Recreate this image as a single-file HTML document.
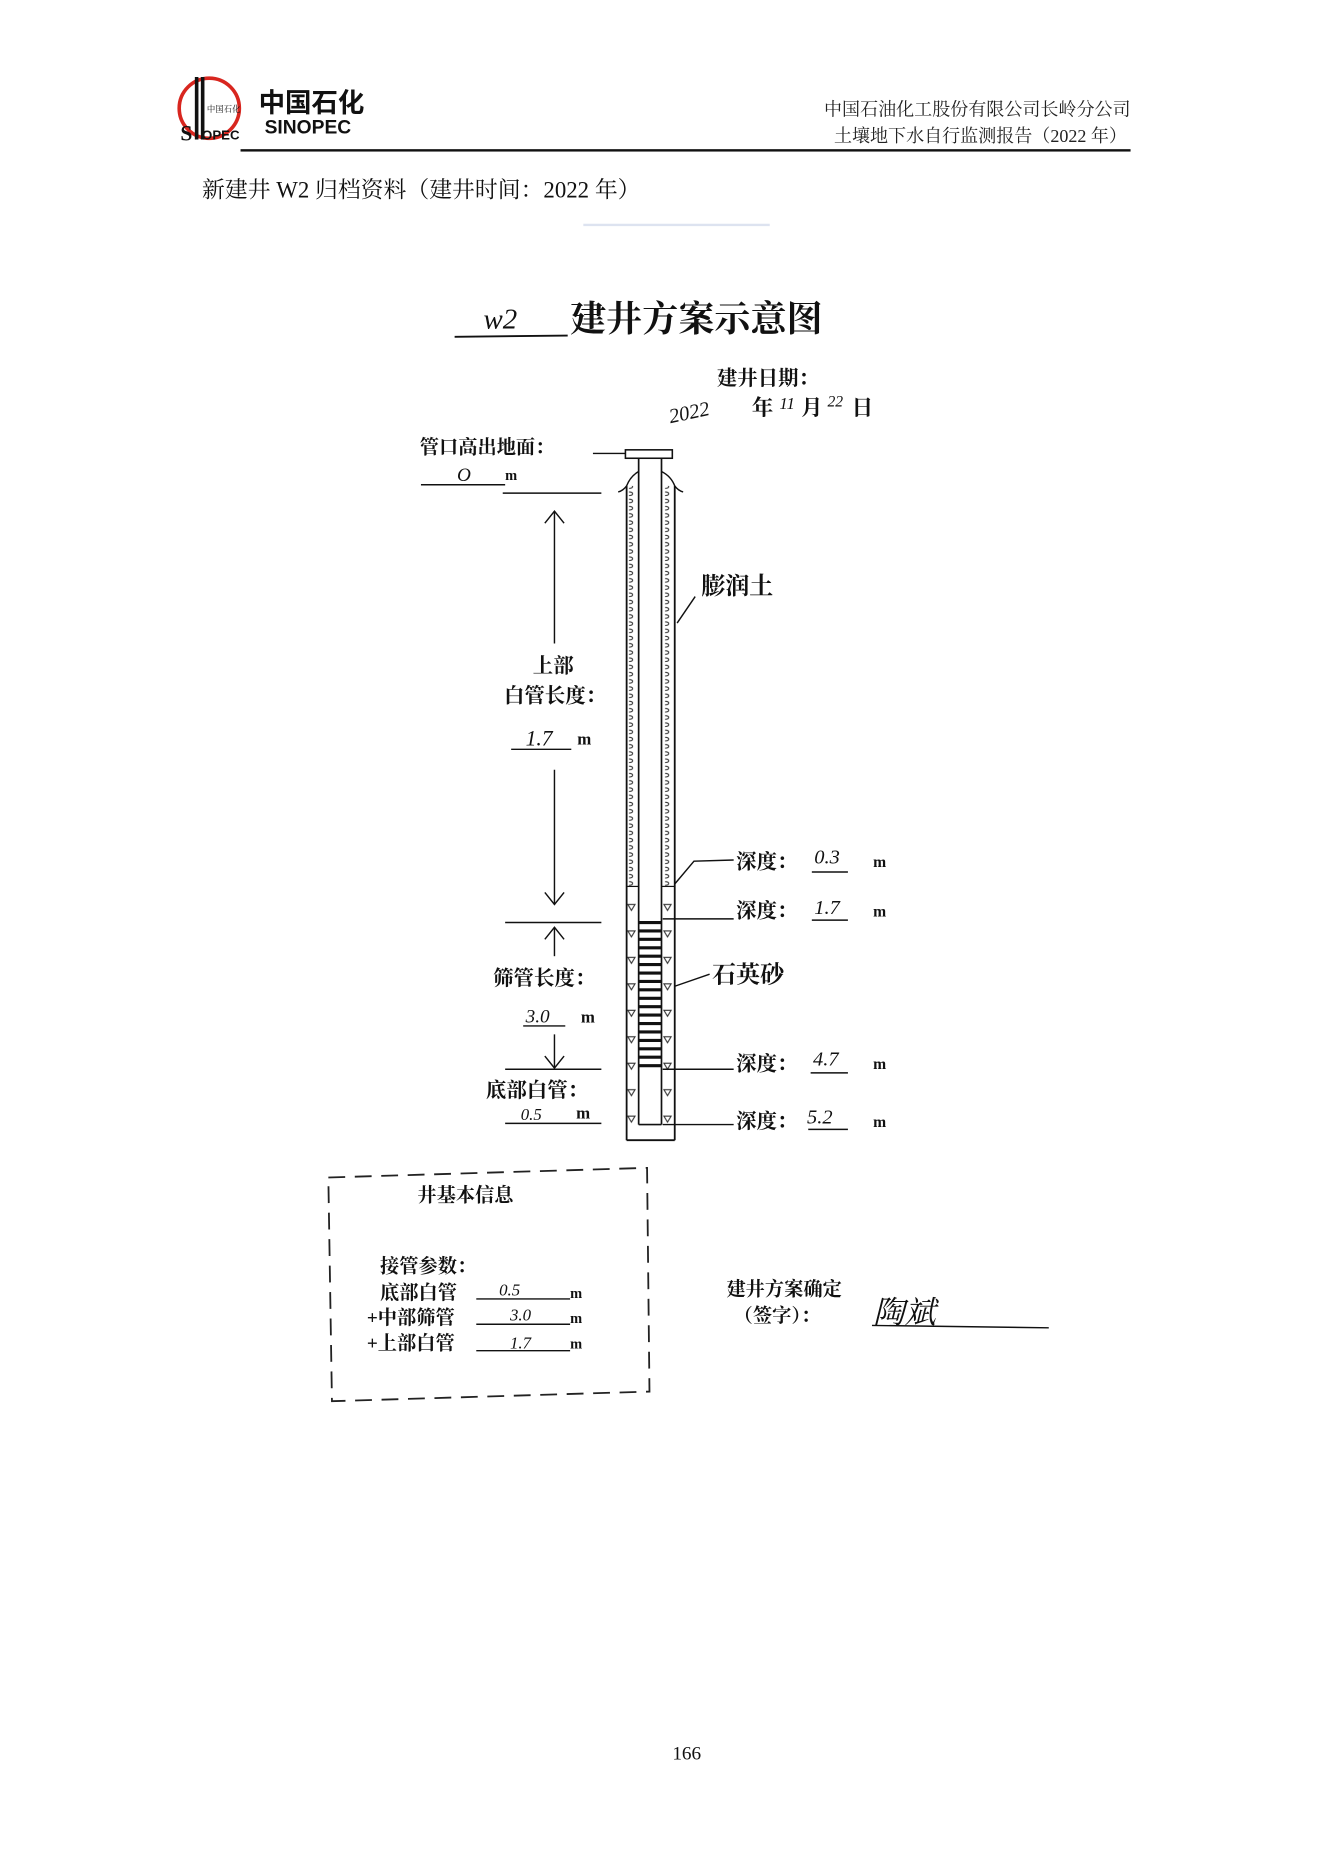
<!DOCTYPE html>
<html><head><meta charset="utf-8"><style>
html,body{margin:0;padding:0;background:#fff;}
svg{display:block;}
.s{font-family:"Liberation Serif","Noto Serif CJK SC",serif;}
.b{font-family:"Liberation Serif","Noto Serif CJK SC",serif;font-weight:bold;}
.h{font-family:"Liberation Serif",serif;font-style:italic;}
</style></head><body>
<svg width="1323" height="1871" viewBox="0 0 1100 1555.6" xmlns="http://www.w3.org/2000/svg">
<defs>
<pattern id="ben" width="10" height="6" patternUnits="userSpaceOnUse">
<path d="M3 1 q3 0 3 1.5 q0 1.5 -3 1.5" fill="none" stroke="#333" stroke-width="0.9"/>
</pattern>
<pattern id="sand" width="10" height="22" patternUnits="userSpaceOnUse">
<path d="M2 4 L8 4 L5 9 Z" fill="none" stroke="#333" stroke-width="0.9"/>
</pattern>
</defs>
<!-- logo -->
<circle cx="174" cy="90" r="25" fill="none" stroke="#d8261f" stroke-width="3"/>
<text x="150" y="117" class="b" font-size="18" fill="#111">S</text>
<rect x="162" y="64" width="3" height="52" fill="#111"/><rect x="167" y="64" width="3" height="52" fill="#111"/>
<text x="168" y="116" font-family="Liberation Sans,sans-serif" font-weight="bold" font-size="11" fill="#111">OPEC</text>
<text x="172" y="93" class="s" font-size="7" fill="#111">中国石化</text>
<text x="215" y="93" font-family="Noto Sans CJK SC,sans-serif" font-weight="bold" font-size="22" fill="#111">中国石化</text>
<text x="220" y="111" font-family="Liberation Sans,sans-serif" font-weight="bold" font-size="16" fill="#111">SINOPEC</text>
<!-- header -->
<text x="940" y="96" text-anchor="end" class="s" font-size="15" fill="#222">中国石油化工股份有限公司长岭分公司</text>
<text x="937" y="118" text-anchor="end" class="s" font-size="15" fill="#222">土壤地下水自行监测报告（2022 年）</text>
<rect x="200" y="124" width="740" height="2" fill="#111"/>
<text x="168" y="164" class="s" font-size="19" fill="#111">新建井 W2 归档资料（建井时间：2022 年）</text>
<line x1="485" y1="187" x2="640" y2="187" stroke="#dde3f0" stroke-width="2"/>
<!-- title -->
<line x1="378" y1="280" x2="472" y2="279" stroke="#111" stroke-width="1.6"/>
<text x="402" y="273" class="h" font-size="24" fill="#111">w2</text>
<text x="474" y="275" class="b" font-size="30" fill="#111">建井方案示意图</text>
<text x="596" y="320" class="b" font-size="17" fill="#111">建井日期：</text>
<text x="556" y="348" class="h" font-size="17" fill="#111" transform="rotate(-12 575 343)">2022</text>
<text x="625" y="345" class="b" font-size="18" fill="#111">年</text>
<text x="648" y="340" class="h" font-size="14" fill="#111">11</text>
<text x="666" y="345" class="b" font-size="18" fill="#111">月</text>
<text x="688" y="338" class="h" font-size="13" fill="#111">22</text>
<text x="708" y="345" class="b" font-size="18" fill="#111">日</text>
<!-- top labels -->
<text x="349" y="377" class="b" font-size="16" fill="#111">管口高出地面：</text>
<line x1="493" y1="377" x2="520" y2="377" stroke="#111" stroke-width="1.2"/>
<line x1="350" y1="403" x2="420" y2="403" stroke="#111" stroke-width="1.2"/>
<text x="380" y="400" class="h" font-size="16" fill="#111">O</text>
<text x="420" y="399" class="b" font-size="12" fill="#111">m</text>
<line x1="418" y1="410" x2="500" y2="410" stroke="#111" stroke-width="1.2"/>
<!-- well -->
<rect x="520" y="374" width="39" height="7" fill="#fff" stroke="#111" stroke-width="1.3"/>
<rect x="521" y="404" width="10" height="333" fill="url(#ben)"/>
<rect x="550" y="404" width="11" height="333" fill="url(#ben)"/>
<rect x="521" y="737" width="10" height="211" fill="url(#sand)"/>
<rect x="551" y="737" width="10" height="211" fill="url(#sand)"/>
<rect x="531" y="936" width="20" height="12" fill="url(#sand)"/>
<path d="M514 409 Q518 408 521 404 Q524 396 531 392 M568 409 Q564 408 561 404 Q558 396 550 392" fill="none" stroke="#111" stroke-width="1.2"/>
<line x1="521" y1="404" x2="521" y2="948" stroke="#111" stroke-width="1.5"/>
<line x1="561" y1="404" x2="561" y2="948" stroke="#111" stroke-width="1.5"/>
<line x1="521" y1="948" x2="561" y2="948" stroke="#111" stroke-width="1.5"/>
<line x1="531" y1="381" x2="531" y2="935" stroke="#111" stroke-width="1.4"/>
<line x1="550" y1="381" x2="550" y2="935" stroke="#111" stroke-width="1.4"/>
<line x1="531" y1="935" x2="550" y2="935" stroke="#111" stroke-width="1.4"/>
<line x1="521" y1="737" x2="531" y2="737" stroke="#111" stroke-width="1"/>
<line x1="550" y1="737" x2="561" y2="737" stroke="#111" stroke-width="1"/>
<g stroke="#111" stroke-width="2.6">
<line x1="531" y1="767" x2="550" y2="767"/><line x1="531" y1="774" x2="550" y2="774"/><line x1="531" y1="781" x2="550" y2="781"/><line x1="531" y1="788" x2="550" y2="788"/><line x1="531" y1="795" x2="550" y2="795"/><line x1="531" y1="802" x2="550" y2="802"/><line x1="531" y1="809" x2="550" y2="809"/><line x1="531" y1="816" x2="550" y2="816"/><line x1="531" y1="823" x2="550" y2="823"/><line x1="531" y1="830" x2="550" y2="830"/><line x1="531" y1="837" x2="550" y2="837"/><line x1="531" y1="844" x2="550" y2="844"/><line x1="531" y1="851" x2="550" y2="851"/><line x1="531" y1="858" x2="550" y2="858"/><line x1="531" y1="865" x2="550" y2="865"/><line x1="531" y1="872" x2="550" y2="872"/><line x1="531" y1="879" x2="550" y2="879"/><line x1="531" y1="886" x2="550" y2="886"/>
</g>
<!-- left dims -->
<g stroke="#111" stroke-width="1.2" fill="none">
<line x1="461" y1="425" x2="461" y2="535"/><path d="M453 435 L461 425 L469 435"/>
<line x1="461" y1="640" x2="461" y2="752"/><path d="M453 742 L461 752 L469 742"/>
<line x1="420" y1="767" x2="500" y2="767"/>
<line x1="461" y1="771" x2="461" y2="795"/><path d="M453 781 L461 771 L469 781"/>
<line x1="461" y1="860" x2="461" y2="888"/><path d="M453 878 L461 888 L469 878"/>
<line x1="420" y1="889" x2="500" y2="889"/>
<line x1="425" y1="623" x2="475" y2="623"/>
<line x1="435" y1="853" x2="470" y2="853"/>
<line x1="420" y1="934" x2="500" y2="934"/>
</g>
<text x="443" y="559" class="b" font-size="17" fill="#111">上部</text>
<text x="419" y="584" class="b" font-size="17" fill="#111">白管长度：</text>
<text x="437" y="620" class="h" font-size="18" fill="#111">1.7</text>
<text x="480" y="619" class="b" font-size="14" fill="#111">m</text>
<text x="410" y="819" class="b" font-size="17" fill="#111">筛管长度：</text>
<text x="437" y="850" class="h" font-size="16" fill="#111">3.0</text>
<text x="483" y="850" class="b" font-size="14" fill="#111">m</text>
<text x="404" y="912" class="b" font-size="17" fill="#111">底部白管：</text>
<text x="433" y="931" class="h" font-size="14" fill="#111">0.5</text>
<text x="479" y="930" class="b" font-size="14" fill="#111">m</text>
<!-- right labels -->
<text x="583" y="494" class="b" font-size="20" fill="#111">膨润土</text>
<line x1="578" y1="496" x2="563" y2="518" stroke="#111" stroke-width="1.2"/>
<text x="592" y="817" class="b" font-size="20" fill="#111">石英砂</text>
<line x1="590" y1="810" x2="561" y2="820" stroke="#111" stroke-width="1.2"/>
<g stroke="#111" stroke-width="1.2" fill="none">
<path d="M610 715 L577 716 L561 735"/>
<line x1="551" y1="764" x2="610" y2="764"/>
<line x1="551" y1="889" x2="610" y2="889"/>
<line x1="551" y1="935" x2="610" y2="935"/>
<line x1="675" y1="725" x2="705" y2="725"/>
<line x1="675" y1="765" x2="705" y2="765"/>
<line x1="674" y1="892" x2="705" y2="892"/>
<line x1="672" y1="939" x2="705" y2="939"/>
</g>
<g class="b" font-size="17" fill="#111">
<text x="612" y="722">深度：</text><text x="612" y="763">深度：</text><text x="612" y="890">深度：</text><text x="612" y="938">深度：</text>
</g>
<g class="b" font-size="13" fill="#111">
<text x="726" y="721">m</text><text x="726" y="762">m</text><text x="726" y="889">m</text><text x="726" y="937">m</text>
</g>
<g class="h" font-size="17" fill="#111">
<text x="677" y="718">0.3</text><text x="677" y="760">1.7</text><text x="676" y="886">4.7</text><text x="671" y="934">5.2</text>
</g>
<!-- info box -->
<path d="M273 979 L538 971 L540 1157 L276 1165 Z" fill="none" stroke="#222" stroke-width="1.5" stroke-dasharray="14 8"/>
<text x="347" y="999" class="b" font-size="16" fill="#111">井基本信息</text>
<text x="316" y="1058" class="b" font-size="16" fill="#111">接管参数：</text>
<text x="316" y="1080" class="b" font-size="16" fill="#111">底部白管</text>
<text x="305" y="1101" class="b" font-size="16" fill="#111">+中部筛管</text>
<text x="305" y="1122" class="b" font-size="16" fill="#111">+上部白管</text>
<g stroke="#111" stroke-width="1.2">
<line x1="396" y1="1080" x2="474" y2="1080"/><line x1="396" y1="1101" x2="474" y2="1101"/><line x1="396" y1="1123" x2="474" y2="1123"/>
</g>
<g class="h" font-size="14" fill="#111"><text x="415" y="1077">0.5</text><text x="424" y="1098">3.0</text><text x="424" y="1121">1.7</text></g>
<g class="b" font-size="12" fill="#111"><text x="474" y="1079">m</text><text x="474" y="1100">m</text><text x="474" y="1121">m</text></g>
<text x="604" y="1077" class="b" font-size="16" fill="#111">建井方案确定</text>
<text x="610" y="1099" class="b" font-size="16" fill="#111">（签字）：</text>
<text x="726" y="1100" class="s" font-size="26" fill="#111" font-style="italic">陶斌</text>
<path d="M725 1102 L872 1104" stroke="#111" stroke-width="1.2"/>
<text x="571" y="1463" text-anchor="middle" class="s" font-size="16" fill="#111">166</text>
</svg>
</body></html>
